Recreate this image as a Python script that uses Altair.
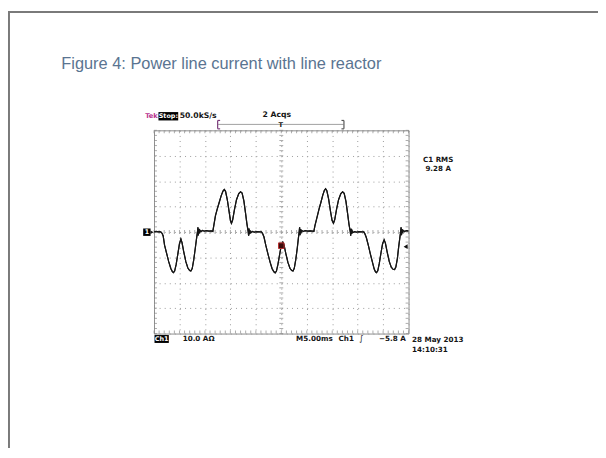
import altair as alt
import pandas as pd

# ---------------- data ----------------
# time in ms (5 ms/div, 10 divisions), current in A (10 A/div, 8 divisions)
t_ms = [
    0.0, 0.4, 0.8, 1.1,
    1.35, 1.6, 1.8, 2.07, 2.5, 2.9, 3.3, 3.6, 3.82, 4.05, 4.35, 4.7, 5.0, 5.28, 5.5, 5.85,
    6.25, 6.65, 7.0, 7.23, 7.5, 7.8, 8.1, 8.35, 8.55,
    8.62, 8.7, 8.78, 8.88, 9.0, 9.2, 9.5, 9.9, 10.3, 10.8, 11.2, 11.55,
    11.75, 12.07, 12.4, 12.8, 13.2, 13.55, 13.8, 14.05, 14.4, 14.75, 15.02, 15.22, 15.45,
    15.8, 16.2, 16.65, 17.0, 17.3, 17.65, 17.95, 18.25, 18.5,
    18.58, 18.66, 18.75, 18.85, 19.0, 19.3, 19.7, 20.2, 20.7, 21.1,
    21.35, 21.6, 21.95, 22.4, 22.8, 23.2, 23.55, 23.8, 24.05, 24.35, 24.7, 25.0, 25.3,
    25.55, 25.9, 26.3, 26.7, 27.05, 27.3, 27.55, 27.85, 28.15, 28.35, 28.52,
    28.6, 28.68, 28.77, 28.87, 29.0, 29.3, 29.7, 30.2, 30.7, 31.1, 31.4,
    31.6, 32.05, 32.4, 32.8, 33.15, 33.45, 33.7, 33.95, 34.3, 34.65, 34.98, 35.25, 35.5,
    35.85, 36.25, 36.7, 37.05, 37.35, 37.7, 38.0, 38.3, 38.55,
    38.63, 38.71, 38.8, 38.9, 39.05, 39.4, 39.8, 40.3, 40.8, 41.2,
    41.4, 41.7, 42.1, 42.5, 42.9, 43.25, 43.5, 43.7, 43.95, 44.25, 44.6, 44.9, 45.2,
    45.45, 45.8, 46.2, 46.6, 46.95, 47.25, 47.5, 47.8, 48.05, 48.28, 48.45,
    48.53, 48.61, 48.7, 48.8, 48.95, 49.2, 49.6, 50.0,
]
i_amp = [
    0.0, 0.2, 0.0, 0.1,
    0.0, -0.6, -1.6, -5.2, -8.6, -11.8, -14.4, -15.6, -16.0, -15.4, -12.8, -8.4, -4.6, -2.8, -4.2, -7.9,
    -11.7, -14.2, -15.2, -15.4, -14.4, -11.0, -6.5, -2.6, 0.2,
    1.8, -1.4, 1.2, -0.6, 0.7, 0.1, 0.6, 0.3, 0.5, 0.3, 0.4, 0.2,
    2.6, 6.4, 8.9, 11.6, 14.3, 16.1, 16.7, 16.0, 12.6, 8.0, 4.4, 3.4, 4.8,
    8.8, 12.7, 15.1, 15.8, 15.3, 12.2, 7.8, 3.2, 0.1,
    -1.5, 1.3, -0.9, 0.6, -0.3, 0.2, -0.1, 0.1, 0.0, 0.0,
    -0.7, -2.0, -5.2, -8.8, -11.9, -14.5, -15.7, -16.1, -15.4, -12.7, -8.6, -5.2, -4.0,
    -5.2, -8.6, -12.0, -14.3, -15.2, -15.4, -14.3, -10.8, -6.2, -2.6, 0.2,
    1.8, -1.3, 1.1, -0.5, 0.6, 0.2, 0.5, 0.3, 0.4, 0.3, 0.2,
    2.4, 6.0, 8.9, 11.8, 14.5, 16.3, 17.0, 16.2, 12.9, 8.3, 4.5, 3.4, 4.9,
    8.9, 12.7, 15.1, 15.8, 15.2, 12.0, 7.6, 3.0, 0.1,
    -1.5, 1.2, -0.8, 0.5, -0.2, 0.1, -0.1, 0.1, 0.0, 0.0,
    -0.6, -2.2, -5.3, -8.7, -11.9, -14.6, -15.7, -16.0, -15.3, -12.4, -8.0, -4.6, -3.1,
    -4.4, -7.9, -11.6, -13.9, -14.7, -14.8, -13.8, -10.5, -6.0, -2.4, 0.2,
    1.8, -1.3, 1.1, -0.5, 0.6, 0.2, 0.5, 0.3,
]

time_major = [0, 5, 10, 15, 20, 25, 30, 35, 40, 45, 50]
amp_major = [-40, -30, -20, -10, 0, 10, 20, 30, 40]
time_minor = [float(k) for k in range(0, 51)]
amp_minor = [float(k) for k in range(-40, 41, 2)]

trigger_time = [25.0]
trigger_level = [-5.8]

title_text = "Figure 4: Power line current with line reactor"
sample_rate = "50.0kS/s"
acqs = "2 Acqs"
rms_label = "C1 RMS"
rms_value = "9.28 A"
ch_scale = "10.0 AΩ"
timebase = "M5.00ms"
trig_src = "Ch1"
trig_lvl = "−5.8 A"
date_txt = "28 May 2013"
time_txt = "14:10:31"

# ---------------- layout helpers ----------------
OX, OY = 156, 129  # page position of the scope graticule
W, H = 258, 206
GRID = "#9a9a9a"
SCOPE_FONT = "DejaVu Sans"

def vx(px):
    return px - OX

def vy(py):
    return py - OY

one = pd.DataFrame({"d": [0]})

xscale = alt.Scale(domain=[0, 50], nice=False, zero=False)
yscale = alt.Scale(domain=[-40, 40], nice=False, zero=False)
xaxis = alt.Axis(values=time_major, grid=True, gridDash=[1, 4.16], gridColor=GRID,
                 gridWidth=1, domain=False, ticks=False, labels=False, title=None)
yaxis = alt.Axis(values=amp_major, grid=True, gridDash=[1, 4.16], gridColor=GRID,
                 gridWidth=1, domain=False, ticks=False, labels=False, title=None)
X = alt.X("t:Q", scale=xscale, axis=xaxis)
Y = alt.Y("i:Q", scale=yscale, axis=yaxis)


def text(s, px, py, size=7.3, color="#151515", align="left", weight="bold",
         font=SCOPE_FONT, baseline="middle"):
    return alt.Chart(one).mark_text(
        text=s, fontSize=size, color=color, align=align, baseline=baseline,
        fontWeight=weight, font=font
    ).encode(x=alt.value(vx(px)), y=alt.value(vy(py)))


def rect(x1, x2, y1, y2, fill="#000", stroke=None):
    kw = dict(color=fill)
    if stroke:
        kw.update(stroke=stroke, strokeWidth=1)
    return alt.Chart(one).mark_rect(**kw).encode(
        x=alt.value(vx(x1)), x2=alt.value(vx(x2)),
        y=alt.value(vy(y1)), y2=alt.value(vy(y2)))


def hrule(x1, x2, py, color="#888", width=1):
    return alt.Chart(one).mark_rule(color=color, strokeWidth=width).encode(
        x=alt.value(vx(x1)), x2=alt.value(vx(x2)), y=alt.value(vy(py)))


def vrule(px, y1, y2, color="#888", width=1):
    return alt.Chart(one).mark_rule(color=color, strokeWidth=width).encode(
        x=alt.value(vx(px)), y=alt.value(vy(y1)), y2=alt.value(vy(y2)))


# ---------------- graticule ticks ----------------
df_tx = pd.DataFrame({"t": time_minor})
df_ty = pd.DataFrame({"i": amp_minor})

tick_color = "#8a8a8a"
ticks = []
# centre horizontal line ticks (vertical marks)
ticks.append(alt.Chart(df_tx).mark_tick(orient="vertical", size=4, thickness=1, color=tick_color)
             .encode(x=X, y=alt.Y("c:Q", scale=yscale, axis=yaxis)).transform_calculate(c="0"))
# top / bottom border ticks
ticks.append(alt.Chart(df_tx).mark_tick(orient="vertical", size=3, thickness=1, color=tick_color, yOffset=1.5)
             .encode(x=X, y=alt.Y("c:Q", scale=yscale, axis=yaxis)).transform_calculate(c="40"))
ticks.append(alt.Chart(df_tx).mark_tick(orient="vertical", size=3, thickness=1, color=tick_color, yOffset=-1.5)
             .encode(x=X, y=alt.Y("c:Q", scale=yscale, axis=yaxis)).transform_calculate(c="-40"))
# centre vertical line ticks (horizontal marks)
ticks.append(alt.Chart(df_ty).mark_tick(orient="horizontal", size=4, thickness=1, color=tick_color)
             .encode(y=Y, x=alt.X("c:Q", scale=xscale, axis=xaxis)).transform_calculate(c="25"))
# left / right border ticks
ticks.append(alt.Chart(df_ty).mark_tick(orient="horizontal", size=3, thickness=1, color=tick_color, xOffset=1.5)
             .encode(y=Y, x=alt.X("c:Q", scale=xscale, axis=xaxis)).transform_calculate(c="0"))
ticks.append(alt.Chart(df_ty).mark_tick(orient="horizontal", size=3, thickness=1, color=tick_color, xOffset=-1.5)
             .encode(y=Y, x=alt.X("c:Q", scale=xscale, axis=xaxis)).transform_calculate(c="50"))

# ---------------- waveform ----------------
wave = pd.DataFrame({"t": t_ms, "i": i_amp, "k": list(range(len(t_ms)))})
trace = alt.Chart(wave).mark_line(color="#151515", strokeWidth=1.2, clip=True).encode(
    x=X, y=Y, order="k:Q")

# trigger level arrow (right edge) and trigger point marker
trig_df = pd.DataFrame({"t": [50.0], "i": trigger_level})
trig_arrow = alt.Chart(trig_df).mark_point(shape="triangle-left", filled=True, size=22,
                                           color="#111", opacity=1, xOffset=-3).encode(x=X, y=Y)
tp_df = pd.DataFrame({"t": trigger_time, "i": trigger_level})
trig_mark = alt.Chart(tp_df).mark_square(size=32, color="#3a0c0c", stroke="#b83030",
                                         strokeWidth=1, opacity=1, yOffset=-1).encode(x=X, y=Y)

# ---------------- annotations ----------------
layers = [trace] + ticks + [trace, trig_arrow, trig_mark]

# slide frame
layers.append(alt.Chart(one).mark_rule(color="#7a7a7a", strokeWidth=2).encode(
    x=alt.value(vx(9)), y=alt.value(vy(8)), y2=alt.value(vy(460))))
layers.append(alt.Chart(one).mark_rule(color="#7a7a7a", strokeWidth=2).encode(
    x=alt.value(vx(8)), x2=alt.value(vx(606)), y=alt.value(vy(9))))

# title
layers.append(text(title_text, 62, 62, size=16.6, color="#5a7491", weight="normal",
                   font="Liberation Sans"))

# header
layers.append(text("Tek", 147, 114.5, color="#b8338f", size=6.8))
layers.append(rect(160.5, 180.5, 110.5, 119))
layers.append(text("Stop:", 170.5, 114.8, color="#ffffff", align="center", size=6.5))
layers.append(text(sample_rate, 182, 114.5, size=7.8))
layers.append(text(acqs, 266, 114, size=7.8))

# record bracket with trigger position
layers.append(hrule(221, 348, 123, color="#a0a0a0"))
layers.append(vrule(220.5, 119, 127.5, color="#7a3a7a", width=1.2))
layers.append(hrule(220.5, 223, 119, color="#7a3a7a", width=1.2))
layers.append(hrule(220.5, 223, 127.5, color="#7a3a7a", width=1.2))
layers.append(vrule(348.5, 119, 127.5, color="#555", width=1.2))
layers.append(hrule(346, 348.5, 119, color="#555", width=1.2))
layers.append(hrule(346, 348.5, 127.5, color="#555", width=1.2))
layers.append(text("T", 284.5, 124, align="center", size=6.8))

# channel marker on the left
layers.append(rect(145, 152.5, 228.5, 236))
layers.append(text("1", 148.8, 232.3, color="#ffffff", align="center", size=6.5))
layers.append(alt.Chart(one).mark_point(shape="triangle-right", filled=True, size=14,
                                        color="#111", opacity=1).encode(
    x=alt.value(vx(154)), y=alt.value(vy(232.3))))

# measurement readout
layers.append(text(rms_label, 444, 159.5, align="center", size=7.2))
layers.append(text(rms_value, 444, 168, align="center", size=7.2))

# footer
layers.append(rect(156.5, 171, 336.5, 344.5))
layers.append(text("Ch1", 163.8, 340.5, color="#ffffff", align="center", size=6.5))
layers.append(text(ch_scale, 185, 340.5))
layers.append(text(timebase, 300, 340.5))
layers.append(text(trig_src, 343, 340.5))
layers.append(text("∫", 364, 340.5, weight="normal", size=8))
layers.append(text(trig_lvl, 384, 340.5))
layers.append(text(date_txt, 417.5, 341.5))
layers.append(text(time_txt, 417.5, 352))

chart = alt.layer(*layers).properties(
    width=W, height=H,
    autosize=alt.AutoSizeParams(type="none"),
    padding={"left": 148, "top": 121, "right": 192, "bottom": 113},
    background="#ffffff",
).configure_view(stroke="#8c8c8c", strokeWidth=1)

chart.save("out.html", embed_options={"renderer": "svg", "actions": False})
